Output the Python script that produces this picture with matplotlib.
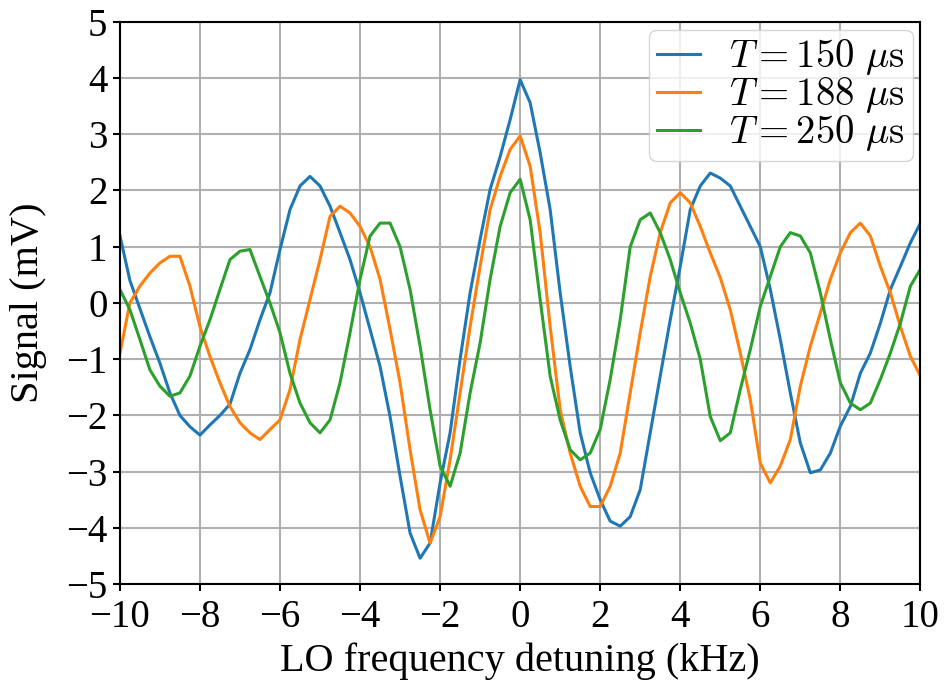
import numpy as np
from matplotlib import pyplot as plt

plt.rcParams['font.family'] = ['Liberation Serif', 'DejaVu Serif']
plt.rcParams['mathtext.fontset'] = 'cm'

# LO detuning (kHz), sampled every 0.25 kHz
detuning = np.arange(-10, 10.001, 0.25)

# Signal (mV)
sig_150 = [1.2, 0.4, -0.1, -0.6, -1.07, -1.6, -2.0, -2.2, -2.35, -2.17,
           -2.0, -1.8, -1.25, -0.83, -0.3, 0.18, 0.95, 1.66, 2.08, 2.25,
           2.08, 1.72, 1.25, 0.77, 0.18, -0.47, -1.13, -2.02, -3.08, -4.09,
           -4.54, -4.27, -3.2, -2.31, -1.0, 0.18, 1.13, 2.02, 2.6, 3.26,
           3.97, 3.56, 2.67, 1.66, 0.18, -1.13, -2.31, -3.02, -3.5, -3.88,
           -3.97, -3.8, -3.32, -2.31, -1.3, -0.3, 0.65, 1.66, 2.08, 2.31,
           2.22, 2.08, 1.72, 1.36, 1.0, 0.24, -0.65, -1.6, -2.49, -3.02,
           -2.97, -2.67, -2.19, -1.84, -1.25, -0.89, -0.36, 0.24, 0.65, 1.07,
           1.42]
sig_188 = [-0.9, 0.0, 0.3, 0.53, 0.71, 0.83, 0.83, 0.3, -0.42, -0.95,
           -1.42, -1.84, -2.13, -2.31, -2.43, -2.25, -2.08, -1.54, -0.65, 0.06,
           0.77, 1.54, 1.72, 1.6, 1.36, 1.0, 0.42, -0.47, -1.42, -2.61,
           -3.68, -4.27, -3.8, -2.79, -1.6, -0.42, 0.65, 1.66, 2.25, 2.73,
           2.97, 2.43, 1.25, -0.42, -1.9, -2.67, -3.26, -3.62, -3.62, -3.26,
           -2.67, -1.6, -0.53, 0.47, 1.25, 1.78, 1.96, 1.78, 1.36, 0.89,
           0.45, -0.12, -0.89, -1.72, -2.85, -3.2, -2.9, -2.43, -1.48, -0.77,
           -0.18, 0.42, 0.89, 1.25, 1.42, 1.19, 0.65, 0.18, -0.42, -0.95,
           -1.3]
sig_250 = [0.24, -0.12, -0.65, -1.19, -1.48, -1.66, -1.6, -1.3, -0.77, -0.3,
           0.24, 0.77, 0.92, 0.95, 0.47, 0.0, -0.53, -1.25, -1.78, -2.13,
           -2.31, -2.08, -1.42, -0.53, 0.42, 1.19, 1.42, 1.42, 1.0, 0.24,
           -0.77, -1.9, -2.9, -3.26, -2.67, -1.6, -0.71, 0.42, 1.36, 1.96,
           2.2, 1.48, 0.06, -1.3, -2.08, -2.61, -2.79, -2.67, -2.25, -1.36,
           -0.3, 1.0, 1.48, 1.6, 1.25, 0.77, 0.18, -0.36, -1.0, -2.02,
           -2.45, -2.31, -1.54, -0.83, -0.06, 0.47, 1.0, 1.25, 1.19, 0.89,
           0.18, -0.65, -1.42, -1.78, -1.9, -1.78, -1.36, -0.89, -0.36, 0.3,
           0.6]

labels = [r'$T = 150\ \mu\mathrm{s}$', r'$T = 188\ \mu\mathrm{s}$',
          r'$T = 250\ \mu\mathrm{s}$']

fig = plt.figure(figsize=(9.44, 6.8), dpi=100)
ax = fig.add_subplot(111)
fig.subplots_adjust(left=0.127, right=0.975, bottom=0.141, top=0.968)

for sig, lab in zip([sig_150, sig_188, sig_250], labels):
    ax.plot(detuning, sig, lw=2.2, label=lab)

ax.set_xlim(-10, 10)
ax.set_ylim(-5, 5)
ax.set_xticks(np.arange(-10, 11, 2))
ax.set_yticks(np.arange(-5, 6, 1))
ax.tick_params(labelsize=28, width=1.5, length=5)
ax.tick_params(axis='x', pad=6)
ax.tick_params(axis='y', pad=4)
for s in ax.spines.values():
    s.set_linewidth(1.5)
ax.grid(True, lw=1.5)
ax.set_xlabel('LO frequency detuning (kHz)', fontsize=29, labelpad=4)
ax.set_ylabel('Signal (mV)', fontsize=29, labelpad=14)
ax.legend(loc='upper right', fontsize=28, handlelength=1.1,
          handletextpad=0.75, labelspacing=-0.05, borderpad=0.2,
          borderaxespad=0.2)

plt.savefig('out.png', dpi=100)
plt.close()
